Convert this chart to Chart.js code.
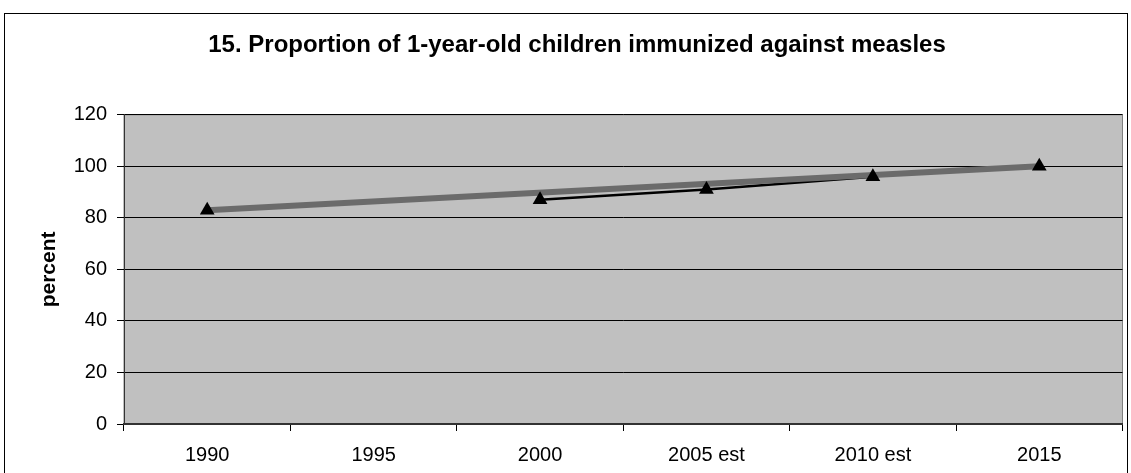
<!DOCTYPE html>
<html>
<head>
<meta charset="utf-8">
<script src="https://cdn.jsdelivr.net/npm/chart.js@4"></script>
<style>
    html, body { margin: 0; padding: 0; background: #fff; }
    #frame {
        position: absolute; left: 4px; top: 13px; width: 1124px; height: 480px;
        border: 1.5px solid #000; box-sizing: border-box;
    }
    #wrap { position: absolute; left: 0; top: 0; width: 1131px; height: 473px; }
</style>
</head>
<body>
<div id="frame"></div>
<div id="wrap"><canvas id="measles" width="1131" height="473"></canvas></div>
<script>
const years = ['1990', '1995', '2000', '2005 est', '2010 est', '2015'];
const actual = [83, null, 87, 91, 96, null];
const target = [83, null, null, null, null, 100];
const markers = [83, null, 87, 91, 96, 100];
const yTicks = [0, 20, 40, 60, 80, 100, 120];

const plotBackground = {
    id: 'plotBackground',
    beforeDraw (chart) {
        const { ctx, chartArea: a } = chart;
        ctx.save();
        ctx.fillStyle = '#c0c0c0';
        ctx.fillRect(a.left, a.top, a.right - a.left, a.bottom - a.top);
        ctx.strokeStyle = '#808080';
        ctx.lineWidth = 1;
        ctx.strokeRect(a.left, a.top, a.right - a.left, a.bottom - a.top);
        ctx.restore();
    }
};

Chart.defaults.font.family = '"Liberation Sans", Arial, sans-serif';
Chart.defaults.color = '#000';

new Chart(document.getElementById('measles'), {
    type: 'line',
    plugins: [plotBackground],
    data: {
        labels: years,
        datasets: [
            {
                data: markers,
                showLine: false,
                pointStyle: 'triangle',
                pointRadius: 8.5,
                pointBackgroundColor: '#000',
                pointBorderColor: '#000',
                pointBorderWidth: 0,
                order: 0
            },
            {
                data: target,
                spanGaps: true,
                borderColor: '#6b6b6b',
                borderWidth: 6,
                pointRadius: 0,
                order: 1
            },
            {
                data: actual,
                spanGaps: false,
                borderColor: '#000',
                borderWidth: 2.5,
                pointRadius: 0,
                order: 2
            }
        ]
    },
    options: {
        responsive: false,
        animation: false,
        // left padding shifts the title centre to match the original
        layout: { padding: { left: 30, right: 7 } },
        plugins: {
            legend: { display: false },
            tooltip: { enabled: false },
            title: {
                display: true,
                text: '15. Proportion of 1-year-old children immunized against measles',
                font: { size: 24, weight: 'bold' },
                padding: { top: 31, bottom: 55 }
            }
        },
        scales: {
            x: {
                offset: true,
                grid: {
                    offset: true,
                    drawOnChartArea: false,
                    tickLength: 7,
                    color: '#000'
                },
                border: { color: '#333', width: 2 },
                ticks: { font: { size: 20 }, padding: 12, maxRotation: 0 },
                afterFit: (scale) => { scale.height = 49; }
            },
            y: {
                min: 0,
                max: 120,
                afterBuildTicks: (scale) => { scale.ticks = yTicks.map(v => ({ value: v })); },
                grid: { color: '#000', tickLength: 7 },
                border: { color: '#333', width: 1 },
                ticks: { font: { size: 20 }, padding: 10 },
                title: {
                    display: true,
                    text: 'percent',
                    font: { size: 21, weight: 'bold' },
                    padding: { top: 7, bottom: 0 }
                },
                afterFit: (scale) => { scale.width = 94; }
            }
        }
    }
});
</script>
</body>
</html>
